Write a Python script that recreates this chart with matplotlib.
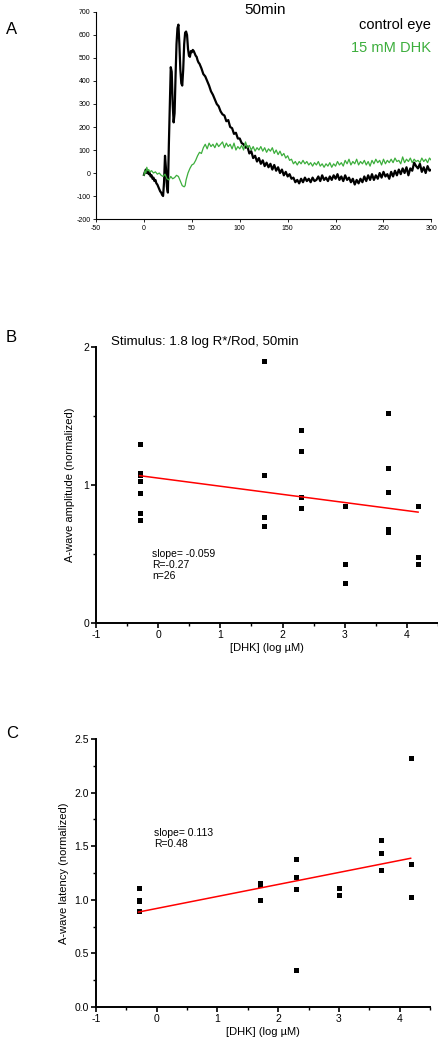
import numpy as np
import matplotlib
matplotlib.use("Agg")
from matplotlib import pyplot as plt
from matplotlib.ticker import MultipleLocator

plt.rcParams['font.family'] = ['Liberation Sans', 'DejaVu Sans']
plt.rcParams['axes.unicode_minus'] = False

# panel A: ERG traces (ms, uV)
black_t = [0, 1, 2, 3, 4, 5, 6, 7, 8, 9, 10, 11, 12, 13, 14, 15, 16, 17, 18, 19,
           20, 21, 22, 23, 24, 25, 26, 27, 28, 29, 30, 31, 32, 33, 34, 35, 36, 37, 38, 39,
           40, 41, 42, 43, 44, 45, 46, 47, 48, 49, 50, 51, 52, 53, 54, 55, 56, 57, 58,
           60, 62, 64, 66, 68, 70, 72, 74, 76, 78, 80, 82, 84, 86, 88, 90, 92, 94, 96, 98,
           100, 102, 104, 106, 108, 110, 112, 114, 116, 118, 120, 122, 124, 126, 128,
           130, 132, 134, 136, 138, 140, 142, 144, 146, 148, 150, 152, 154, 156, 158,
           160, 162, 164, 166, 168, 170, 172, 174, 176, 178, 180, 182, 184, 186, 188,
           190, 192, 194, 196, 198, 200, 202, 204, 206, 208, 210, 212, 214, 216, 218,
           220, 222, 224, 226, 228, 230, 232, 234, 236, 238, 240, 242, 244, 246, 248,
           250, 252, 254, 256, 258, 260, 262, 264, 266, 268, 270, 272, 274, 276, 278,
           280, 282, 284, 286, 288, 290, 292, 294, 296, 298, 300]
black_v = [-8, 5, 15, 0, 8, -5, 0, -15, -10, -25, -20, -35, -30, -45, -50, -60, -70, -80, -85, -95,
           -100, -40, 75, 20, -60, -85, 120, 300, 460, 440, 300, 220, 260, 420, 560, 630, 645, 560, 450, 390,
           380, 450, 560, 610, 615, 600, 540, 510, 505, 530, 525, 535, 530, 520, 510, 505, 490, 480, 475,
           455, 430, 420, 400, 380, 355, 340, 320, 300, 290, 268, 255, 250, 225, 230, 200, 195, 170, 175, 150,
           150, 130, 125, 110, 115, 85, 95, 65, 75, 50, 65, 40, 55, 30, 45,
           25, 40, 15, 35, 10, 25, 0, 15, -10, 5, -15, -5, -25, -20, -40,
           -30, -45, -25, -40, -20, -35, -25, -40, -20, -35, -30, -15, -35, -10, -30,
           -20, -35, -15, -30, -10, -25, -5, -30, -15, -35, -10, -30, -20, -40, -25,
           -50, -30, -45, -25, -40, -15, -35, -10, -30, -5, -30, -10, -25, 0, -20,
           5, -15, -5, -25, 5, -15, 10, -10, 15, -5, 20, 0, 25, -10, 20,
           10, 45, 30, 20, 40, 5, 25, 0, 30, 10, 15]

green_t = [0, 1, 2, 3, 4, 5, 6, 8, 10, 12, 14, 16, 18, 20, 22, 24, 26, 28, 30, 32, 34, 36, 38,
           40, 42, 43, 44, 46, 48, 50, 52, 54, 56, 58, 60, 62, 64, 66, 68, 70, 72, 74, 76, 78,
           80, 82, 84, 86, 88, 90, 92, 94, 96, 98, 100, 102, 104, 106, 108, 110, 112, 114, 116, 118,
           120, 122, 124, 126, 128, 130, 132, 134, 136, 138, 140, 142, 144, 146, 148, 150, 152, 154, 156, 158,
           160, 162, 164, 166, 168, 170, 172, 174, 176, 178, 180, 182, 184, 186, 188, 190, 192, 194, 196, 198,
           200, 202, 204, 206, 208, 210, 212, 214, 216, 218, 220, 222, 224, 226, 228, 230, 232, 234, 236, 238,
           240, 242, 244, 246, 248, 250, 252, 254, 256, 258, 260, 262, 264, 266, 268, 270, 272, 274, 276, 278,
           280, 282, 284, 286, 288, 290, 292, 294, 296, 298, 300]
green_v = [-10, 10, 0, 25, 10, 15, 5, 10, 0, 5, -5, 0, -10, -15, -5, -25, -30, -15, -25, -20, -10, -15, -35,
           -55, -60, -55, -30, 0, 20, 35, 40, 55, 75, 90, 85, 110, 125, 105, 130, 115, 125, 110, 130, 115,
           125, 135, 110, 130, 115, 125, 105, 130, 100, 115, 105, 120, 100, 135, 110, 120, 100, 115, 95, 110,
           100, 115, 95, 110, 90, 105, 95, 110, 85, 100, 80, 95, 75, 85, 65, 75, 55, 60, 40, 50,
           35, 50, 40, 55, 40, 50, 35, 45, 30, 45, 35, 50, 30, 40, 25, 40, 30, 45, 25, 40,
           30, 50, 35, 45, 30, 55, 40, 60, 35, 50, 40, 60, 35, 50, 40, 55, 35, 50, 30, 55,
           40, 60, 45, 55, 35, 60, 40, 55, 45, 60, 45, 65, 50, 55, 40, 70, 45, 60, 50, 65,
           45, 60, 50, 55, 45, 65, 50, 60, 45, 65, 55]

# panel B: a-wave amplitude
amp_x = [-0.3, -0.3, -0.3, -0.3, -0.3, -0.3, -0.3,
         1.7, 1.7, 1.7, 1.7,
         2.3, 2.3, 2.3, 2.3,
         3.0, 3.0, 3.0,
         3.7, 3.7, 3.7, 3.7, 3.7,
         4.18, 4.18, 4.18]
amp_y = [1.30, 1.09, 1.07, 1.03, 0.945, 0.80, 0.746,
         1.90, 1.07, 0.766, 0.705,
         1.396, 1.246, 0.91, 0.836,
         0.85, 0.43, 0.287,
         1.52, 1.12, 0.95, 0.68, 0.66,
         0.85, 0.48, 0.43]
amp_fit = (-0.059, 1.050)   # slope, intercept

# panel C: a-wave latency
lat_x = [-0.3, -0.3, -0.3, -0.3,
         1.7, 1.7, 1.7,
         2.3, 2.3, 2.3, 2.3,
         3.0, 3.0,
         3.7, 3.7, 3.7,
         4.18, 4.18, 4.18]
lat_y = [1.11, 1.0, 0.99, 0.895,
         1.157, 1.135, 1.0,
         1.378, 1.216, 1.097, 0.346,
         1.11, 1.047,
         1.562, 1.437, 1.278,
         2.325, 1.331, 1.029]
lat_fit = (0.112, 0.919)

fig = plt.figure(figsize=(4.39, 10.5), dpi=100)

# ---- A ----
axA = fig.add_axes([0.2187, 0.7914, 0.764, 0.1972])
axA.plot(black_t, black_v, color='black', lw=1.6)
axA.plot(green_t, green_v, color='#3cae3c', lw=0.9)
axA.set_xlim(-50, 300)
axA.set_ylim(-200, 700)
axA.xaxis.set_major_locator(MultipleLocator(50))
axA.yaxis.set_major_locator(MultipleLocator(100))
axA.tick_params(labelsize=5, length=2.5, width=0.6, pad=1.5)
for s in ['top', 'right']:
    axA.spines[s].set_visible(False)
for s in ['left', 'bottom']:
    axA.spines[s].set_linewidth(0.8)
fig.text(265 / 439, 1 - 10 / 1050, '50min', fontsize=11, ha='center', va='center')
fig.text(431 / 439, 1 - 25 / 1050, 'control eye', fontsize=10.5, ha='right', va='center')
fig.text(431 / 439, 1 - 48 / 1050, '15 mM DHK', fontsize=10.5, ha='right', va='center', color='#3cae3c')
fig.text(6 / 439, 1 - 29 / 1050, 'A', fontsize=12, ha='left', va='center')


def scatter_panel(ax, xs, ys, fit, ylim, ymajor, yminor, fmt):
    ax.plot(xs, ys, 's', color='black', ms=3.6, mew=0)
    xx = np.array([-0.3, 4.18])
    ax.plot(xx, fit[0] * xx + fit[1], color='red', lw=1.1)
    ax.set_xlim(-1, 4.5)
    ax.set_ylim(*ylim)
    ax.xaxis.set_major_locator(MultipleLocator(1))
    ax.xaxis.set_minor_locator(MultipleLocator(0.5))
    ax.yaxis.set_major_locator(MultipleLocator(ymajor))
    ax.yaxis.set_minor_locator(MultipleLocator(yminor))
    ax.yaxis.set_major_formatter(fmt)
    ax.tick_params(which='major', labelsize=7.5, length=3.5, width=1.2, pad=1.5)
    ax.tick_params(which='minor', length=2, width=1.0)
    for s in ['top', 'right']:
        ax.spines[s].set_visible(False)
    for s in ['left', 'bottom']:
        ax.spines[s].set_linewidth(1.4)
    ax.set_xlabel('[DHK] (log µM)', fontsize=8, labelpad=2)


# ---- B ----
axB = fig.add_axes([0.2187, 0.4067, 0.779, 0.2628])
scatter_panel(axB, amp_x, amp_y, amp_fit, (0, 2), 1, 0.5, '{x:.0f}')
axB.set_ylabel('A-wave amplitude (normalized)', fontsize=8, labelpad=6)
axB.text(-0.1, 0.42, 'slope= -0.059\nR=-0.27\nn=26', fontsize=7.5, va='center', linespacing=1.15)
fig.text(111 / 439, 1 - 342 / 1050, 'Stimulus: 1.8 log R*/Rod, 50min', fontsize=9.5, va='center')
fig.text(6 / 439, 1 - 338 / 1050, 'B', fontsize=12, ha='left', va='center')

# ---- C ----
axC = fig.add_axes([0.2187, 0.041, 0.761, 0.2552])
scatter_panel(axC, lat_x, lat_y, lat_fit, (0, 2.5), 0.5, 0.25, '{x:.1f}')
axC.set_ylabel('A-wave latency (normalized)', fontsize=8, labelpad=4)
axC.text(-0.05, 1.57, 'slope= 0.113\nR=0.48', fontsize=7.5, va='center', linespacing=1.15)
fig.text(6 / 439, 1 - 733 / 1050, 'C', fontsize=12, ha='left', va='center')

fig.savefig('out.png', dpi=100)
